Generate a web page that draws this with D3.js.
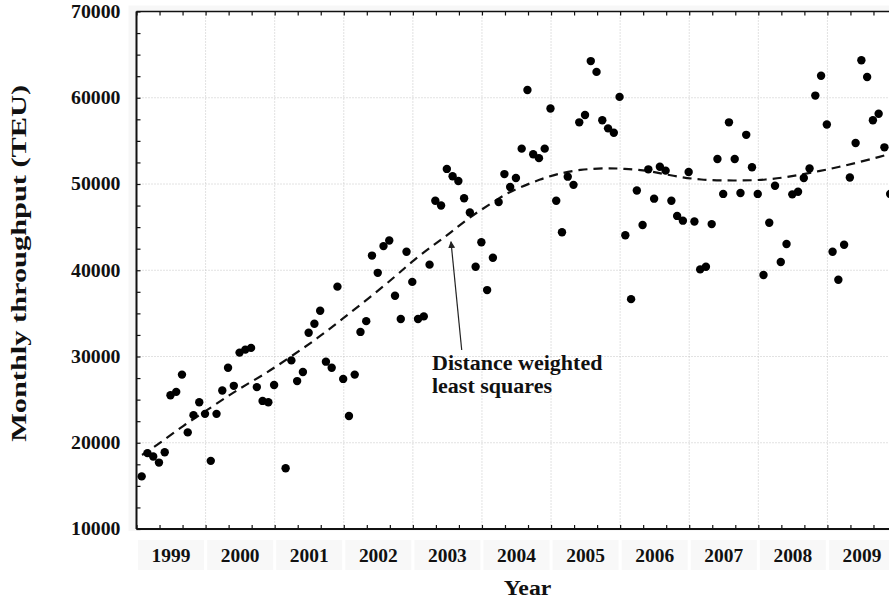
<!DOCTYPE html>
<html>
<head>
<meta charset="utf-8">
<script src="https://cdnjs.cloudflare.com/ajax/libs/d3/7.8.5/d3.min.js"></script>
<style>
body { margin: 0; background: #fff; }
svg text { font-family: "Liberation Serif", "Times New Roman", serif; font-weight: bold; fill: #111; }
</style>
</head>
<body>
<div class="chart"></div>
<script>
var startYear = 1999;

// monthly throughput (TEU) from Jan 1999, null = no point
var teu = [
    // 1999
    16100, 18800, 18400, 17700, 18900, 25500, 25900, 27900, 21200, 23200, 24700, 23350,
    // 2000
    17900, 23350, 26050, 28700, 26600, 30450, 30800, 31000, 26450, 24850, 24700, 26700,
    // 2001
    null, 17050, 29550, 27150, 28200, 32750, 33800, 35300, 29400, 28700, 38100, 27400,
    // 2002
    23100, 27900, 32850, 34100, 41700, 39700, 42800, 43450, 37050, 34350, 42150, 38650,
    // 2003
    34350, 34650, 40650, 48050, 47500, 51750, 50900, 50350, 48350, 46700, 40400, 43250,
    // 2004
    37700, 41450, 47900, 51150, 49650, 50700, 54100, 60900, 53450, 53000, 54100, 58750,
    // 2005
    48050, 44400, 50850, 49900, 57150, 58000, 64250, 63000, 57400, 56450, 55950, 60100,
    // 2006
    44050, 36650, 49250, 45250, 51700, 48300, 52000, 51550, 48050, 46300, 45750, 51400,
    // 2007
    45650, 40100, 40400, 45350, 52900, 48850, 57150, 52900, 48950, 55700, 51950, 48850,
    // 2008
    39450, 45500, 49800, 40950, 43050, 48800, 49100, 50700, 51800, 60250, 62550, 56900,
    // 2009
    42150, 38900, 42950, 50750, 54750, 64350, 62400, 57400, 58150, 54250, 48850
];

// distance weighted least squares fit
var fitYears = [1999.08, 1999.32, 1999.70, 2000.09, 2000.45, 2000.83, 2001.22, 2001.62, 2001.99,
    2002.38, 2002.77, 2003.01, 2003.30, 2003.54, 2003.83, 2004.12, 2004.36, 2004.55, 2004.84,
    2005.08, 2005.42, 2005.81, 2006.05, 2006.39, 2006.77, 2007.16, 2007.64, 2008.12, 2008.51,
    2008.89, 2009.18, 2009.47, 2009.76, 2010.00];
var fitValues = [18580, 19850, 22130, 24140, 26110, 27820, 29900, 32100, 34420,
    36860, 39440, 41180, 42920, 44310, 46200, 47680, 48920, 49610, 50540,
    51150, 51700, 51850, 51770, 51580, 50920, 50460, 50380, 50460, 50920,
    51500, 52000, 52550, 53160, 53700];

var yearLabels = ["1999", "2000", "2001", "2002", "2003", "2004", "2005", "2006", "2007", "2008", "2009"];
var yTickLabels = [10000, 20000, 30000, 40000, 50000, 60000, 70000];

var annotation = ["Distance weighted", "least squares"];
var arrowFrom = [2003.707, 30750];
var arrowTo = [2003.552, 43300];
var noteAt = [2003.277, 28430];

var svgWidth = 889;
var svgHeight = 601;

var margin = { top: 11.5, left: 136.5 };
var width = 760;
var height = 517.5;

var gridColor = "#c4c4c4";
var stretch = 1.1;

var $svg = d3.select(".chart")
    .append("svg")
    .attr("width", svgWidth)
    .attr("height", svgHeight);

$svg.append("defs").append("marker")
    .attr("id", "arrowHead")
    .attr("viewBox", "0 0 10 10")
    .attr("refX", 9).attr("refY", 5)
    .attr("markerWidth", 7).attr("markerHeight", 7)
    .attr("markerUnits", "userSpaceOnUse")
    .attr("orient", "auto")
    .append("path")
    .attr("d", "M0,0 L10,5 L0,10 z")
    .attr("fill", "#222");

// faint scan-like backing behind the plot
$svg.append("rect")
    .attr("x", margin.left - 8).attr("y", margin.top - 6)
    .attr("width", width + 20).attr("height", height + 8)
    .attr("fill", "#f7f7f7");

var $chart = $svg.append("g")
    .attr("transform", `translate(${margin.left},${margin.top})`);

var xScale = d3.scaleLinear().domain([startYear, 2010]).range([0, width]);
var yScale = d3.scaleLinear().domain([10000, 70000]).range([height, 0]);

$chart.append("rect")
    .attr("width", width).attr("height", height)
    .attr("fill", "#fff");

// gridlines
$chart.append("g")
    .selectAll("line")
    .data(d3.range(20000, 70000, 10000))
    .enter().append("line")
    .attr("x1", 0).attr("x2", width)
    .attr("y1", d => yScale(d)).attr("y2", d => yScale(d))
    .attr("stroke", gridColor).attr("stroke-dasharray", "1,2");

$chart.append("g")
    .selectAll("line")
    .data(d3.range(2000, 2011))
    .enter().append("line")
    .attr("x1", d => xScale(d)).attr("x2", d => xScale(d))
    .attr("y1", 0).attr("y2", height)
    .attr("stroke", gridColor).attr("stroke-dasharray", "1,2");

// inner tick marks on all sides
var xTicks = d3.range(0, 34).map(i => startYear + i / 3);
var yTicks = d3.range(10000, 70001, 2500);

$chart.append("g")
    .attr("transform", `translate(0,${height})`)
    .call(d3.axisBottom(xScale).tickValues(xTicks).tickSize(-4).tickFormat(""));
$chart.append("g")
    .call(d3.axisTop(xScale).tickValues(xTicks).tickSize(-4).tickFormat(""));
$chart.append("g")
    .call(d3.axisLeft(yScale).tickValues(yTicks).tickSize(-4).tickFormat(""));

$chart.selectAll(".domain").attr("stroke", "none");
$chart.selectAll(".tick line").attr("stroke", "#111").attr("stroke-width", 1.2);

// frame
$chart.append("line").attr("x1", 0).attr("x2", 0).attr("y1", 0).attr("y2", height)
    .attr("stroke", "#111").attr("stroke-width", 2);
$chart.append("line").attr("x1", 0).attr("x2", width).attr("y1", height).attr("y2", height)
    .attr("stroke", "#111").attr("stroke-width", 2);
$chart.append("line").attr("x1", 0).attr("x2", width).attr("y1", 0).attr("y2", 0)
    .attr("stroke", "#111").attr("stroke-width", 1.3);

// fitted curve
var fitData = fitYears.map((d, i) => [d, fitValues[i]]);
$chart.append("path")
    .datum(fitData)
    .attr("fill", "none")
    .attr("stroke", "#111")
    .attr("stroke-width", 2.2)
    .attr("stroke-dasharray", "9,6")
    .attr("d", d3.line()
        .x(d => xScale(d[0]))
        .y(d => yScale(d[1]))
        .curve(d3.curveBasis));

// monthly points
var pts = teu.map((v, i) => [startYear + (i + 0.9) / 12, v]).filter(d => d[1] != null);
$chart.append("g")
    .selectAll("circle")
    .data(pts)
    .enter().append("circle")
    .attr("cx", d => xScale(d[0]))
    .attr("cy", d => yScale(d[1]))
    .attr("r", 4.2)
    .attr("fill", "#000");

// annotation
$chart.append("line")
    .attr("x1", xScale(arrowFrom[0])).attr("y1", yScale(arrowFrom[1]))
    .attr("x2", xScale(arrowTo[0])).attr("y2", yScale(arrowTo[1]))
    .attr("stroke", "#222").attr("stroke-width", 1.2)
    .attr("marker-end", "url(#arrowHead)");

$chart.append("g")
    .selectAll("text")
    .data(annotation)
    .enter().append("text")
    .attr("transform", (d, i) => `translate(${xScale(noteAt[0])},${yScale(noteAt[1]) + i * 23}) scale(1.1,1)`)
    .style("font-size", "20px")
    .text(d => d);

// y tick labels
$svg.append("g")
    .selectAll("text")
    .data(yTickLabels)
    .enter().append("text")
    .attr("transform", d => `translate(${margin.left - 16},${margin.top + yScale(d)}) scale(${stretch},1)`)
    .attr("text-anchor", "end")
    .attr("dy", "0.35em")
    .style("font-size", "18px")
    .text(d => d);

// x tick labels on faint boxes
var $xl = $svg.append("g")
    .selectAll("g")
    .data(yearLabels)
    .enter().append("g")
    .attr("transform", (d, i) => `translate(${margin.left + xScale(startYear + i + 0.5)},${margin.top + height + 33})`);

$xl.append("rect")
    .attr("x", -33).attr("y", -22)
    .attr("width", 66).attr("height", 30)
    .attr("fill", "#f8f8f8");

$xl.append("text")
    .attr("transform", `scale(1.08,1)`)
    .attr("text-anchor", "middle")
    .style("font-size", "18px")
    .text(d => d);

// axis titles
$svg.append("text")
    .attr("transform", `translate(${margin.left + xScale(2004.66)},${svgHeight - 6}) scale(1.08,1)`)
    .attr("text-anchor", "middle")
    .style("font-size", "22px")
    .text("Year");

$svg.append("text")
    .attr("transform", `translate(26,${margin.top + yScale(40800)}) rotate(-90)`)
    .attr("text-anchor", "middle")
    .attr("textLength", 357)
    .attr("lengthAdjust", "spacingAndGlyphs")
    .style("font-size", "22px")
    .text("Monthly throughput (TEU)");
</script>
</body>
</html>
